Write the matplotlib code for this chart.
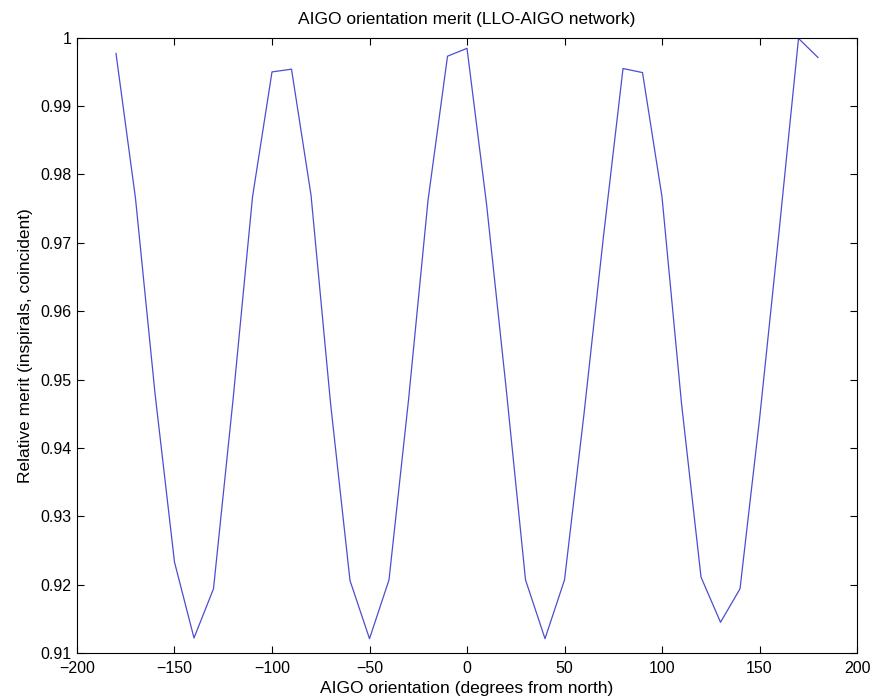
import matplotlib
matplotlib.use("Agg")
import matplotlib.pyplot as plt
from matplotlib.ticker import FixedLocator, FuncFormatter

orientation = [-180, -170, -160, -150, -140, -130, -120, -110, -100, -90,
               -80, -70, -60, -50, -40, -30, -20, -10, 0, 10,
               20, 30, 40, 50, 60, 70, 80, 90, 100, 110,
               120, 130, 140, 150, 160, 170, 180]
merit = [0.9977, 0.9765, 0.9480, 0.9233, 0.9122, 0.9194, 0.9470, 0.9767, 0.9950, 0.9954,
         0.9770, 0.9466, 0.9206, 0.9121, 0.9207, 0.9470, 0.9762, 0.9973, 0.99845, 0.9757,
         0.9489, 0.9207, 0.9121, 0.9207, 0.9450, 0.9710, 0.9955, 0.9949, 0.9767, 0.9465,
         0.9211, 0.9145, 0.9194, 0.9442, 0.9716, 0.9999, 0.9971]

xticks = [-200, -150, -100, -50, 0, 50, 100, 150, 200]
yticks = [0.91, 0.92, 0.93, 0.94, 0.95, 0.96, 0.97, 0.98, 0.99, 1.0]

plt.rcParams['font.family'] = ['Liberation Sans', 'DejaVu Sans']
fig = plt.figure(figsize=(8.86, 7.00), dpi=100)
ax = fig.add_axes([0.0869, 0.0671, 0.8804, 0.879])
ax.plot(orientation, merit, color='#4d4dd2', linewidth=0.9)
ax.set_xlim(-200, 200)
ax.set_ylim(0.91, 1.0)
ax.xaxis.set_major_locator(FixedLocator(xticks))
ax.yaxis.set_major_locator(FixedLocator(yticks))
ax.xaxis.set_major_formatter(FuncFormatter(lambda v, p: f"{v:.0f}".replace('-', '\u2212')))
ax.yaxis.set_major_formatter(FuncFormatter(lambda v, p: "1" if abs(v - 1) < 1e-9 else f"{v:.2f}"))
ax.tick_params(direction='in', top=True, right=True, length=5, width=0.8,
               labelsize=11.5, colors='black')
ax.tick_params(axis='x', pad=6)
ax.tick_params(axis='y', pad=4)
for s in ax.spines.values():
    s.set_linewidth(0.8)
ax.set_title("AIGO orientation merit (LLO-AIGO network)", fontsize=12.5, pad=10)
ax.set_xlabel("AIGO orientation (degrees from north)", fontsize=12.5, labelpad=3)
ax.set_ylabel("Relative merit (inspirals, coincident)", fontsize=12.5, labelpad=5)
fig.savefig("out.png", dpi=100, facecolor='white')
